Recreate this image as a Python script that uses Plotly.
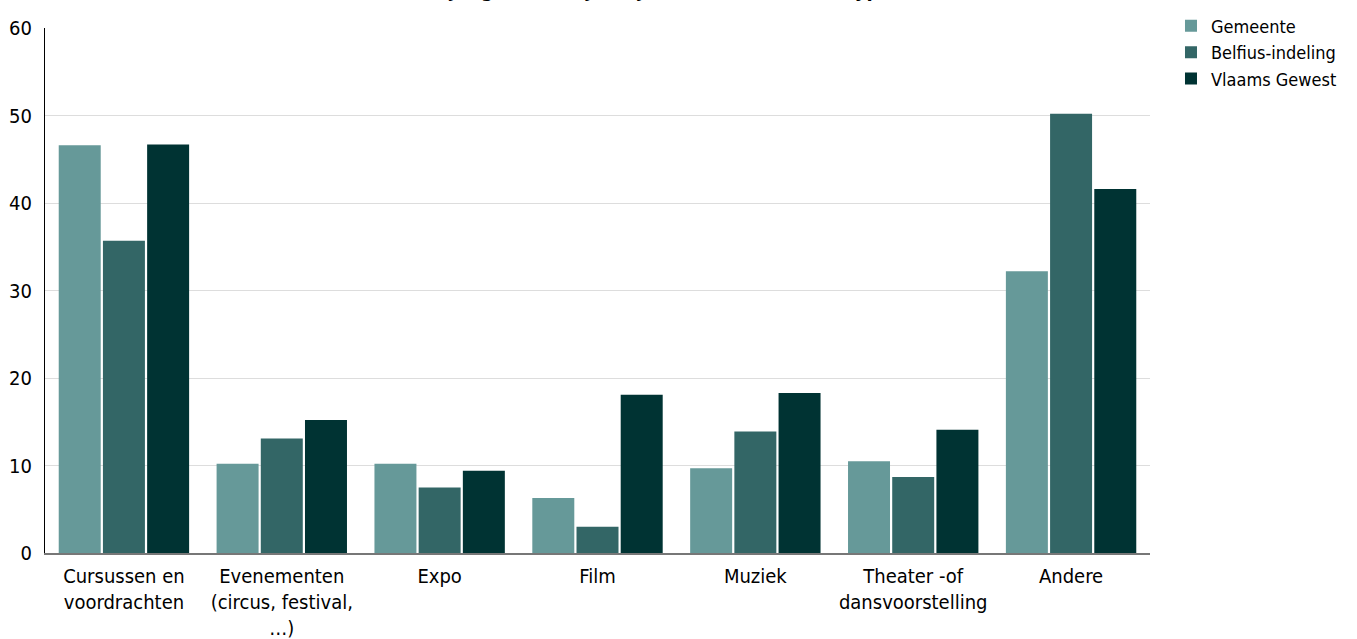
import plotly.graph_objects as go

categories = [
    "Cursussen en<br>voordrachten",
    "Evenementen<br>(circus, festival,<br>…)",
    "Expo",
    "Film",
    "Muziek",
    "Theater -of<br>dansvoorstelling",
    "Andere",
]
gemeente = [46.6, 10.2, 10.2, 6.3, 9.7, 10.5, 32.2]
belfius = [35.7, 13.1, 7.5, 3.0, 13.9, 8.7, 50.2]
vlaams = [46.7, 15.2, 9.4, 18.1, 18.3, 14.1, 41.6]
series_names = ["Gemeente", "Belfius-indeling", "Vlaams Gewest"]
colors = ["#669999", "#336666", "#003333"]
title_text = "Aandeel jongeren dat jaarlijks deelneemt, naar type activiteit (in %)"

font_family = "DejaVu Sans Condensed, DejaVu Sans, Verdana, sans-serif"

fig = go.Figure()
for name, vals, col in zip(series_names, [gemeente, belfius, vlaams], colors):
    fig.add_trace(go.Bar(x=categories, y=vals, name=name, marker_color=col,
                         marker_line_width=0))

fig.update_layout(
    width=1357, height=639,
    margin=dict(l=45, r=207, t=28, b=86, autoexpand=False),
    paper_bgcolor="white", plot_bgcolor="white",
    font=dict(family=font_family, size=20, color="#000"),
    barmode="group", bargap=0.16, bargroupgap=0.05,
    showlegend=True,
    legend=dict(x=1.019, y=1.039, xanchor="left", yanchor="top",
                font=dict(size=18), traceorder="normal",
                itemwidth=30, tracegroupgap=0),
)
fig.add_annotation(text="<b>" + title_text + "</b>", xref="paper", yref="paper",
                   x=0.6, y=1.0, yshift=24, xanchor="center", yanchor="bottom",
                   showarrow=False, font=dict(size=20, color="#000"))
fig.update_yaxes(range=[0, 60], dtick=10, showgrid=True, gridcolor="#dddddd",
                 gridwidth=1, showline=True, linecolor="#000", linewidth=1,
                 zeroline=False, ticks="", ticklabelstandoff=8)
fig.update_xaxes(showline=True, linecolor="#777777", linewidth=2, ticks="",
                 showgrid=False, ticklabelstandoff=4)

fig.write_html("out.html", config={"displayModeBar": False},
               post_script="document.body.style.margin='0';")
